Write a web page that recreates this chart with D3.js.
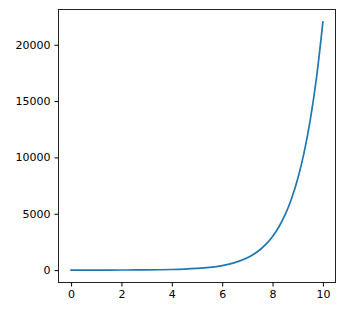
<!DOCTYPE html>
<html>
  <head>
    <meta charset="utf-8">
    <title>Exponential curve</title>
    <style>
      body { margin: 0; background: #fff; }
      .tick text { font-family: "DejaVu Sans", sans-serif; font-size: 11px; fill: #000; }
      .tick line, .domain { stroke: #000; }
    </style>
  </head>
  <body>
    <svg width="349" height="313"></svg>
    <script src="https://d3js.org/d3.v7.min.js"></script>
    <script>
      // values (denser where the curve bends)
      const xs = [0, 0.5, 1, 1.5, 2, 2.5, 3, 3.5, 4, 4.5, 5, 5.5, 6, 6.5, 7, 7.25, 7.5, 7.75, 8, 8.25, 8.5, 8.75, 9, 9.25, 9.5, 9.75, 10];
      const ys = [1, 1.6, 2.7, 4.5, 7.4, 12, 20, 33, 55, 90, 148, 245, 403, 665, 1097, 1408, 1808, 2322, 2981, 3827, 4915, 6310, 8103, 10405, 13360, 17154, 22026];
      const xTicks = [0, 2, 4, 6, 8, 10];
      const yTicks = [0, 5000, 10000, 15000, 20000];

      const svg = d3.select("svg");
      const plotLeft = 58.5, plotRight = 335.5, plotTop = 9.5, plotBottom = 282.5;

      // matplotlib-style 5% margins
      const xPad = (d3.max(xs) - d3.min(xs)) * 0.05;
      const yPad = (d3.max(ys) - d3.min(ys)) * 0.05;
      const x = d3.scaleLinear()
        .domain([d3.min(xs) - xPad, d3.max(xs) + xPad])
        .range([plotLeft, plotRight]);
      const y = d3.scaleLinear()
        .domain([d3.min(ys) - yPad, d3.max(ys) + yPad])
        .range([plotBottom, plotTop]);

      const data = xs.map((d, i) => [d, ys[i]]);

      const line = d3.line()
        .x(d => x(d[0]))
        .y(d => y(d[1]))
        .curve(d3.curveMonotoneX);

      svg.append("path")
        .datum(data)
        .attr("fill", "none")
        .attr("stroke", "#1f77b4")
        .attr("stroke-width", 1.7)
        .attr("stroke-linejoin", "round")
        .attr("stroke-linecap", "square")
        .attr("d", line);

      // frame
      svg.append("rect")
        .attr("x", plotLeft).attr("y", plotTop)
        .attr("width", plotRight - plotLeft).attr("height", plotBottom - plotTop)
        .attr("fill", "none")
        .attr("stroke", "#222")
        .attr("stroke-width", 1);

      const xAxis = svg.append("g")
        .attr("transform", `translate(0,${plotBottom})`)
        .call(d3.axisBottom(x).tickValues(xTicks).tickFormat(d3.format("d")).tickSize(4).tickPadding(4));
      const yAxis = svg.append("g")
        .attr("transform", `translate(${plotLeft},0)`)
        .call(d3.axisLeft(y).tickValues(yTicks).tickFormat(d3.format("d")).tickSize(4).tickPadding(4));
      xAxis.select(".domain").remove();
      yAxis.select(".domain").remove();
    </script>
  </body>
</html>
